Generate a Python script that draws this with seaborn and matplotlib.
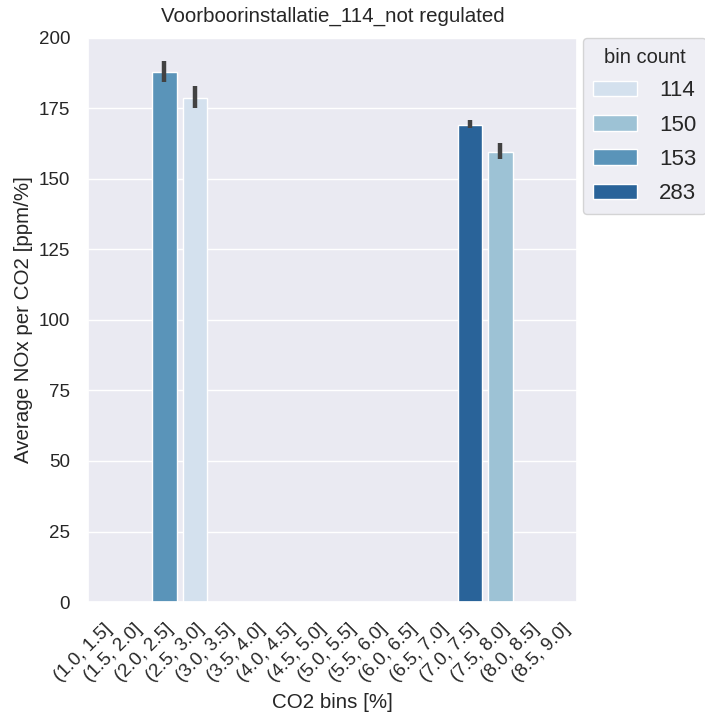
import matplotlib
matplotlib.use("Agg")
import matplotlib.pyplot as plt
import seaborn as sns
import pandas as pd
import numpy as np

categories = ["(1.0, 1.5]", "(1.5, 2.0]", "(2.0, 2.5]", "(2.5, 3.0]", "(3.0, 3.5]",
              "(3.5, 4.0]", "(4.0, 4.5]", "(4.5, 5.0]", "(5.0, 5.5]", "(5.5, 6.0]",
              "(6.0, 6.5]", "(6.5, 7.0]", "(7.0, 7.5]", "(7.5, 8.0]", "(8.0, 8.5]",
              "(8.5, 9.0]"]
bar_bins = ["(2.0, 2.5]", "(2.5, 3.0]", "(7.0, 7.5]", "(7.5, 8.0]"]
bar_means = [188.0, 178.7, 169.0, 159.5]
err_low = [184.2, 175.3, 168.2, 157.0]
err_high = [191.8, 183.0, 171.0, 162.7]
bin_counts = ["153", "114", "283", "150"]
hue_order = ["114", "150", "153", "283"]

df = pd.DataFrame({"bin": pd.Categorical(bar_bins, categories=categories),
                   "nox": bar_means, "count": bin_counts})

sns.set_theme(style="darkgrid")
plt.rcParams["font.family"] = ["Liberation Sans", "DejaVu Sans"]
fig, ax = plt.subplots(figsize=(7.05, 7.15), dpi=100)
fig.subplots_adjust(left=0.125, right=0.818, bottom=0.158, top=0.947)

sns.barplot(data=df, x="bin", y="nox", hue="count", hue_order=hue_order,
            order=categories, palette="Blues", dodge=False, errorbar=None, ax=ax)

xpos = [categories.index(b) for b in bar_bins]
means = np.array(bar_means)
yerr = np.vstack([means - np.array(err_low), np.array(err_high) - means])
ax.errorbar(xpos, means, yerr=yerr, fmt="none", ecolor=".26", elinewidth=3.2,
            capsize=0, zorder=5)

ax.set_ylim(0, 200)
ax.set_xlim(-0.5, len(categories) - 0.5)
ax.set_title("Voorboorinstallatie_114_not regulated", fontsize=14.8, pad=11.5)
ax.set_xlabel("CO2 bins [%]", fontsize=14.8, labelpad=6)
ax.set_ylabel("Average NOx per CO2 [ppm/%]", fontsize=14.8)
ax.set_xticks(range(len(categories)))
ax.set_xticklabels(categories, rotation=45, ha="right", rotation_mode="anchor", fontsize=13.5)
ax.tick_params(axis="y", labelsize=13.5, pad=7)
ax.tick_params(axis="x", pad=7)

ax.legend(title="bin count", bbox_to_anchor=(1.012, 1.0), loc="upper left",
          borderaxespad=0, fontsize=16, title_fontsize=14.5,
          labelspacing=0.6, borderpad=0.45, handletextpad=1.0)

fig.savefig("out.png", dpi=100)
